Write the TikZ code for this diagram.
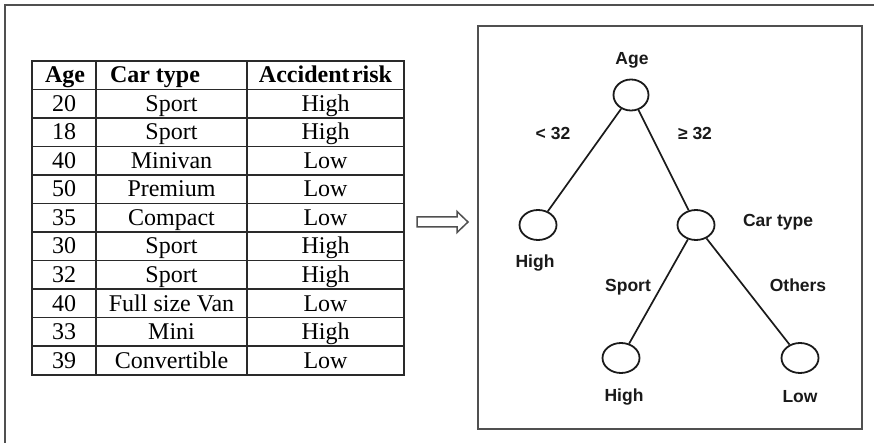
\documentclass[tikz,border=0pt]{standalone}
\usepackage{fontspec}
\setmainfont{Liberation Serif}
\newfontfamily\treefont{Liberation Sans}
\usetikzlibrary{shapes.geometric}
\definecolor{framegray}{HTML}{505050}
\definecolor{gridgray}{HTML}{2A2A2A}
\definecolor{inkdark}{HTML}{1A1A1A}
\begin{document}
\begin{tikzpicture}[x=1pt,y=-1pt,
  cell/.style={anchor=base,inner sep=0pt,font=\fontsize{24}{28}\selectfont,text=black},
  hcell/.style={cell,font=\fontsize{24}{28}\selectfont\bfseries},
  treenode/.style={ellipse,draw=inkdark,line width=1.8pt,minimum width=37pt,minimum height=30pt,inner sep=0pt},
  tlabel/.style={inner sep=0pt,font=\treefont\bfseries\fontsize{17.5}{20}\selectfont,text=inkdark},
  branch/.style={draw=inkdark,line width=1.7pt}]
\useasboundingbox (0,0) rectangle (874,443);
\fill[white] (0,0) rectangle (874,443);
% outer frame (only top and left visible)
\draw[framegray,line width=1.5pt] (5,445) -- (5,5) -- (876,5);
% table grid
\draw[gridgray,line width=1.8pt] (32,61) rectangle (404,375);
\foreach \yy in {89.5,118,146.5,175,203.5,232,260.5,289,317.5,346}
  \draw[gridgray,line width=1.8pt] (32,\yy) -- (404,\yy);
\draw[gridgray,line width=1.8pt] (96,61) -- (96,375);
\draw[gridgray,line width=1.8pt] (247,61) -- (247,375);
% header
\node[hcell] (hAge) at (65,82.5) {Age};
\node[hcell] (hCar) at (155,82.5) {Car type};
\node[hcell] (hRisk) at (325.5,82.5) {Accident\hspace{0.1em}risk};
% rows
\foreach \i/\a/\c/\r in {1/20/Sport/High,2/18/Sport/High,3/40/Minivan/Low,4/50/Premium/Low,5/35/Compact/Low,6/30/Sport/High,7/32/Sport/High,8/40/Full size Van/Low,9/33/Mini/High,10/39/Convertible/Low}{
  \pgfmathsetmacro\yb{61+28.5*(\i+1)-6.5}
  \node[cell] (age\i) at (64,\yb) {\a};
  \node[cell] (car\i) at (171.5,\yb) {\c};
  \node[cell] (risk\i) at (325.5,\yb) {\r};
}
% hollow arrow
\draw[framegray,line width=1.5pt,line join=miter,fill=white]
  (417,217) -- (457,217) -- (457,211.5) -- (468,222) -- (457,232.5) -- (457,227) -- (417,227) -- cycle;
% tree box
\draw[framegray,line width=1.6pt] (478,26) rectangle (862,429);
% tree nodes
\node[treenode,minimum width=35pt,minimum height=31pt] (age) at (631,95) {};
\node[treenode] (lhigh) at (538,225) {};
\node[treenode] (cartype) at (696,225) {};
\node[treenode] (bhigh) at (621,358) {};
\node[treenode] (blow) at (800,358) {};
\draw[branch] (age) -- (lhigh);
\draw[branch] (age) -- (cartype);
\draw[branch] (cartype) -- (bhigh);
\draw[branch] (cartype) -- (blow);
% labels
\node[tlabel] (lAge) at (632,60) {Age};
\node[tlabel] (lLess) at (553,133) {< 32};
\node[tlabel] (lGeq) at (695,133) {≥ 32};
\node[tlabel] (lHighL) at (535,263) {High};
\node[tlabel] (lCar) at (778,222) {Car type};
\node[tlabel] (lSport) at (628,287) {Sport};
\node[tlabel] (lOthers) at (798,285) {Others};
\node[tlabel] (lHighB) at (624,397) {High};
\node[tlabel] (lLow) at (800,397) {Low};
\end{tikzpicture}
\end{document}
